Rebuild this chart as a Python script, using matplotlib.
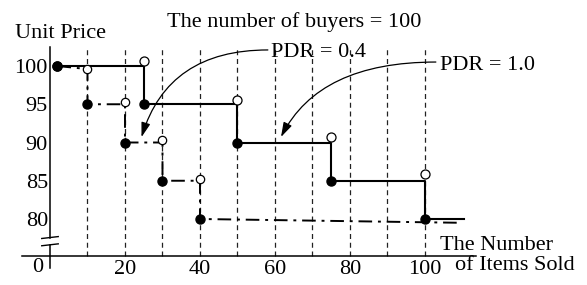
import matplotlib
matplotlib.use("Agg")
import matplotlib.pyplot as plt

plt.rcParams['font.family'] = ['Liberation Serif', 'DejaVu Serif']
plt.rcParams['font.size'] = 16

# levels of the unit price
prices = [100, 95, 90, 85, 80]

# PDR = 1.0 (solid)
sold_10 = [2, 25, 50, 75, 100]
tail_10 = 110.5
open_y_10 = [100.6, 95.6, 90.7, 85.9]

# PDR = 0.4 (dash-dot)
sold_04 = [2, 10, 20, 30, 40]
tail_04 = 110
seg_end_04 = [99.6, 95, 90, 85, 79.5]   # price at the right end of each step
open_y_04 = [99.6, 95.3, 90.3, 85.2]

grid_x = [10, 20, 30, 40, 50, 60, 70, 80, 90, 100]
xticks = [20, 40, 60, 80, 100]
yticks = [80, 85, 90, 95, 100]


def step_path(xs, ys, ends, tail):
    px, py = [], []
    for i in range(len(xs)):
        right = xs[i + 1] if i + 1 < len(xs) else tail
        px += [xs[i], right]
        py += [ys[i], ends[i]]
    return px, py


fig = plt.figure(figsize=(5.87, 2.85), dpi=100)
ax = fig.add_axes([0, 0, 1, 1])
ax.set_xlim(-13.33, 143.2)
ax.set_ylim(71.37, 108.63)
ax.patch.set_visible(False)

# vertical dashed guides
ax.vlines(grid_x, 75.15, 102.5, colors='#222222', linestyles=(0, (4, 3)), lw=0.9, zorder=1)

# PDR = 0.4
x4, y4 = step_path(sold_04, prices, seg_end_04, tail_04)
ax.plot(x4, y4, color='black', lw=1.4, ls=(0, (7, 3, 1.5, 3)), zorder=2)
ax.plot(sold_04[1:], open_y_04, 'o', ms=6, mfc='white', mec='black', mew=0.9, zorder=4)
ax.plot(sold_04, prices, 'o', ms=6.5, color='black', zorder=5)

# PDR = 1.0
x1, y1 = step_path(sold_10, prices, prices, tail_10)
ax.plot(x1, y1, color='black', lw=1.5, zorder=3)
ax.plot(sold_10[1:], open_y_10, 'o', ms=6.5, mfc='white', mec='black', mew=0.9, zorder=4)
ax.plot(sold_10, prices, 'o', ms=6.5, color='black', zorder=5)

# axes
for s in ['top', 'right']:
    ax.spines[s].set_visible(False)
ax.spines['bottom'].set_position(('data', 75.15))
ax.spines['bottom'].set_bounds(-7.5, 113.5)
ax.spines['left'].set_position(('data', 0))
ax.spines['left'].set_bounds(77.55, 102.5)
for s in ['bottom', 'left']:
    ax.spines[s].set_linewidth(1.1)
    ax.spines[s].set_zorder(6)
ax.plot([0, 0], [76.6, 73.6], color='black', lw=1.1, clip_on=False, zorder=6)
ax.plot([-2.2, 2.2], [77.45, 77.7], color='black', lw=1.0, zorder=6)
ax.plot([-2.2, 2.2], [76.5, 76.75], color='black', lw=1.0, zorder=6)

ax.set_xticks(xticks)
ax.set_yticks(yticks)
ax.tick_params(axis='both', length=0)
ax.tick_params(axis='x', pad=3)
ax.tick_params(axis='y', pad=1.5)
ax.text(-3.33, 73.1, '0', ha='center', va='baseline')

# labels
ax.text(65.2, 105.1, 'The number of buyers = 100', ha='center', va='baseline')
ax.text(-9.33, 103.66, 'Unit Price', ha='left', va='baseline')
ax.text(104, 75.95, 'The Number', ha='left', va='baseline')
ax.text(108, 73.33, 'of Items Sold', ha='left', va='baseline')
ax.text(58.9, 101.2, 'PDR = 0.4', ha='left', va='baseline')
ax.text(104, 99.48, 'PDR = 1.0', ha='left', va='baseline')

arrow = dict(arrowstyle='-|>,head_length=0.55,head_width=0.17', color='black', lw=0.9,
             shrinkA=0, shrinkB=0)
ax.annotate('', xy=(24.4, 90.7), xytext=(58.1, 102.1),
            arrowprops=dict(connectionstyle='angle3,angleA=0,angleB=73', **arrow))
ax.annotate('', xy=(61.6, 90.72), xytext=(102.9, 100.52),
            arrowprops=dict(connectionstyle='angle3,angleA=0,angleB=63', **arrow))

fig.savefig('out.png', dpi=100)
